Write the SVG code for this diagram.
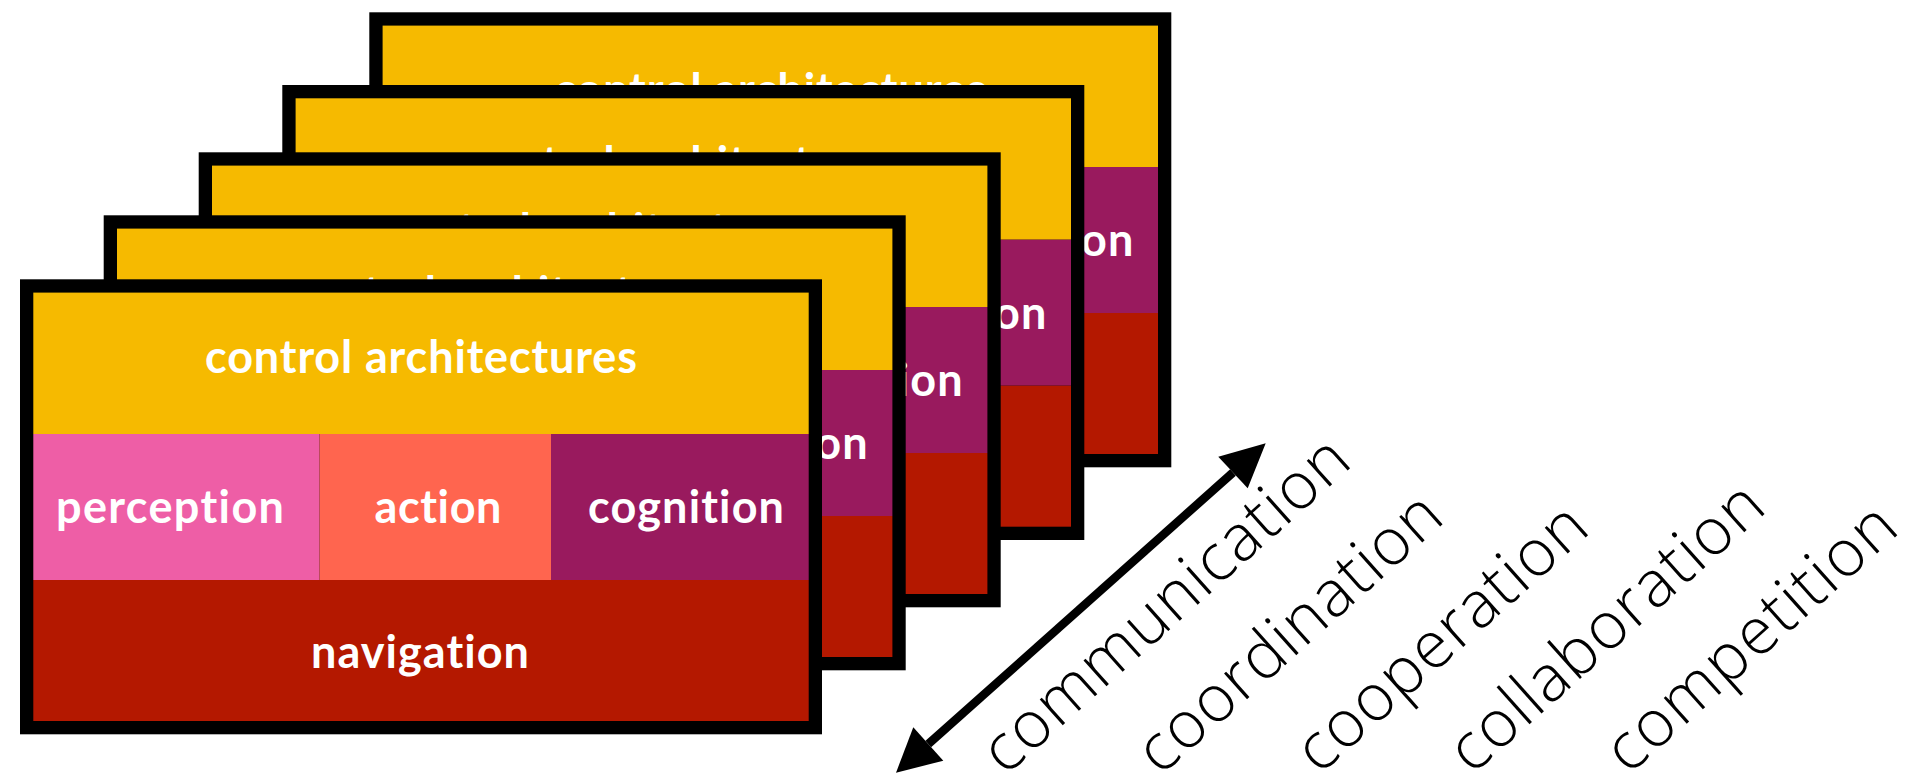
<svg xmlns="http://www.w3.org/2000/svg" width="1930" height="774" viewBox="0 0 1930 774">
<style>
.frame{fill:#000}
.top{fill:#F6BA00}
.per{fill:#EE5EA6}
.act{fill:#FF654F}
.cog{fill:#991A5E}
.nav{fill:#B41800}
.lbl{font-family:Lato,"Open Sans","Liberation Sans",sans-serif;font-weight:700;font-size:45px;fill:#fff;text-anchor:middle;font-variant-ligatures:none;font-feature-settings:"liga" 0}
.rot{font-family:"Open Sans",Lato,"Liberation Sans",sans-serif;font-weight:300;font-size:65px;fill:#000;font-variant-ligatures:none;font-feature-settings:"liga" 0}
</style>
<g id="card5" transform="translate(369.3,12.3)">
<rect class="frame" x="0" y="0" width="802" height="455"/>
<rect class="top" x="13.3" y="13.3" width="775.4" height="141.4"/>
<rect class="per" x="13.3" y="154.7" width="286.3" height="146"/>
<rect class="act" x="299.6" y="154.7" width="231.4" height="146"/>
<rect class="cog" x="531" y="154.7" width="257.7" height="146"/>
<rect class="nav" x="13.3" y="300.7" width="775.4" height="141"/>
<text class="lbl" x="401" y="93.7" textLength="432">control architectures</text>
<text class="lbl" x="150" y="243.7" textLength="228">perception</text>
<text class="lbl" x="418" y="243.7" textLength="127">action</text>
<text class="lbl" x="666" y="243.7" textLength="196">cognition</text>
<text class="lbl" x="400" y="388.7" textLength="218">navigation</text>
</g>
<g id="card4" transform="translate(282.3,85)">
<rect class="frame" x="0" y="0" width="802" height="455"/>
<rect class="top" x="13.3" y="13.3" width="775.4" height="141.4"/>
<rect class="per" x="13.3" y="154.7" width="286.3" height="146"/>
<rect class="act" x="299.6" y="154.7" width="231.4" height="146"/>
<rect class="cog" x="531" y="154.7" width="257.7" height="146"/>
<rect class="nav" x="13.3" y="300.7" width="775.4" height="141"/>
<text class="lbl" x="401" y="93.7" textLength="432">control architectures</text>
<text class="lbl" x="150" y="243.7" textLength="228">perception</text>
<text class="lbl" x="418" y="243.7" textLength="127">action</text>
<text class="lbl" x="666" y="243.7" textLength="196">cognition</text>
<text class="lbl" x="400" y="388.7" textLength="218">navigation</text>
</g>
<g id="card3" transform="translate(198.7,152.3)">
<rect class="frame" x="0" y="0" width="802" height="455"/>
<rect class="top" x="13.3" y="13.3" width="775.4" height="141.4"/>
<rect class="per" x="13.3" y="154.7" width="286.3" height="146"/>
<rect class="act" x="299.6" y="154.7" width="231.4" height="146"/>
<rect class="cog" x="531" y="154.7" width="257.7" height="146"/>
<rect class="nav" x="13.3" y="300.7" width="775.4" height="141"/>
<text class="lbl" x="401" y="93.7" textLength="432">control architectures</text>
<text class="lbl" x="150" y="243.7" textLength="228">perception</text>
<text class="lbl" x="418" y="243.7" textLength="127">action</text>
<text class="lbl" x="666" y="243.7" textLength="196">cognition</text>
<text class="lbl" x="400" y="388.7" textLength="218">navigation</text>
</g>
<g id="card2" transform="translate(103.7,215.3)">
<rect class="frame" x="0" y="0" width="802" height="455"/>
<rect class="top" x="13.3" y="13.3" width="775.4" height="141.4"/>
<rect class="per" x="13.3" y="154.7" width="286.3" height="146"/>
<rect class="act" x="299.6" y="154.7" width="231.4" height="146"/>
<rect class="cog" x="531" y="154.7" width="257.7" height="146"/>
<rect class="nav" x="13.3" y="300.7" width="775.4" height="141"/>
<text class="lbl" x="401" y="93.7" textLength="432">control architectures</text>
<text class="lbl" x="150" y="243.7" textLength="228">perception</text>
<text class="lbl" x="418" y="243.7" textLength="127">action</text>
<text class="lbl" x="666" y="243.7" textLength="196">cognition</text>
<text class="lbl" x="400" y="388.7" textLength="218">navigation</text>
</g>
<g id="card1" transform="translate(20,279.3)">
<rect class="frame" x="0" y="0" width="802" height="455"/>
<rect class="top" x="13.3" y="13.3" width="775.4" height="141.4"/>
<rect class="per" x="13.3" y="154.7" width="286.3" height="146"/>
<rect class="act" x="299.6" y="154.7" width="231.4" height="146"/>
<rect class="cog" x="531" y="154.7" width="257.7" height="146"/>
<rect class="nav" x="13.3" y="300.7" width="775.4" height="141"/>
<text class="lbl" x="401" y="93.7" textLength="432">control architectures</text>
<text class="lbl" x="150" y="243.7" textLength="228">perception</text>
<text class="lbl" x="418" y="243.7" textLength="127">action</text>
<text class="lbl" x="666" y="243.7" textLength="196">cognition</text>
<text class="lbl" x="400" y="388.7" textLength="218">navigation</text>
</g>
<g id="connectors">
<line x1="928.3" y1="744" x2="1233" y2="472.5" stroke="#000" stroke-width="8.5"/>
<polygon points="1265.7,443.3 1218.3,456.7 1247.7,488.3" fill="#000"/>
<polygon points="896,772.7 913.3,727.3 943.3,760.7" fill="#000"/>
</g>
<g id="labels">
<text class="rot" transform="translate(1005.3,776.7) rotate(-41.8)" textLength="468">communication</text>
<text class="rot" transform="translate(1160.3,776.7) rotate(-41.8)" textLength="384">coordination</text>
<text class="rot" transform="translate(1319.3,775.7) rotate(-41.8)" textLength="366">cooperation</text>
<text class="rot" transform="translate(1471.9,775.7) rotate(-41.8)" textLength="398">collaboration</text>
<text class="rot" transform="translate(1628.6,775.7) rotate(-41.8)" textLength="366">competition</text>
</g>
</svg>
